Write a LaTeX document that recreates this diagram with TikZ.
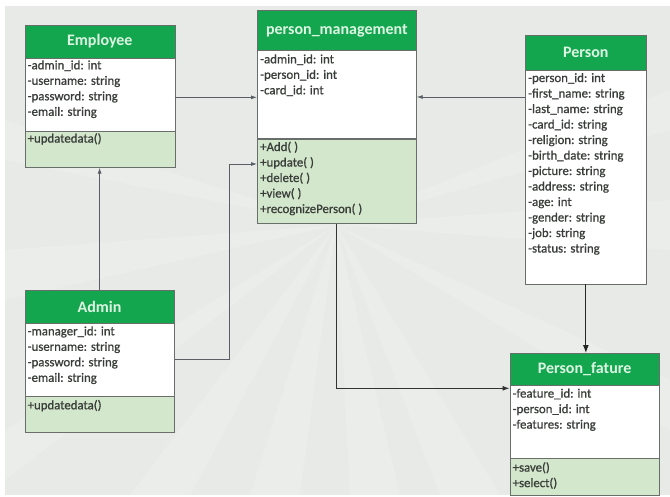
\documentclass[tikz,border=0pt]{standalone}
\usepackage{fontspec}
\setmainfont{Carlito}
\newfontfamily\txtfam[UprightFeatures={FakeBold=0.9}]{Carlito}
\usetikzlibrary{arrows.meta}
\definecolor{bgcol}{HTML}{E7EAE7}
\definecolor{hdrgreen}{HTML}{14A64E}
\definecolor{hdrtext}{HTML}{DDF6E4}
\definecolor{methgreen}{HTML}{D3E7CC}
\definecolor{bordercol}{HTML}{6A6E6A}
\definecolor{textcol}{HTML}{3A3E3A}
\definecolor{linecol}{HTML}{5A5E66}
\newcommand\rowlist[4]{\foreach \t [count=\i] in {#4} \node[txt] (#1\i) at (#2, {#3+(\i-1)*15.5}) {\t};}
\tikzset{
  hdr/.style={draw=bordercol, line width=0.7pt, fill=hdrgreen, text=hdrtext, font=\fontsize{16}{18}\selectfont\bfseries, inner sep=0, anchor=north west},
  attrbox/.style={draw=bordercol, line width=0.7pt, fill=white, inner sep=0, anchor=north west},
  methbox/.style={draw=bordercol, line width=0.7pt, fill=methgreen, inner sep=0, anchor=north west},
  txt/.style={text=textcol, font=\txtfam\fontsize{12.8}{14}\selectfont, inner sep=0, anchor=base west},
  conn/.style={draw=linecol, line width=0.8pt, -{Latex[length=6pt,width=4pt]}},
  connb/.style={draw=black!85, line width=1pt, -{Latex[length=8pt,width=6pt]}},
  ray/.style={fill=white, opacity=0.16}
}
\begin{document}
\begin{tikzpicture}[x=1pt,y=-1pt]
\useasboundingbox (0,0) rectangle (670,496);
\fill[white] (0,0) rectangle (670,496);
\fill[bgcol] (5,6) rectangle (670,495);
% light rays
\begin{scope}
\clip (5,6) rectangle (670,495);
\fill[ray] (336,225) -- (250,495) -- (300,495) -- cycle;
\fill[ray] (336,225) -- (130,495) -- (190,495) -- cycle;
\fill[ray] (336,225) -- (350,495) -- (400,495) -- cycle;
\fill[ray] (336,225) -- (440,495) -- (500,495) -- cycle;
\fill[ray] (336,225) -- (5,430) -- (5,480) -- cycle;
\fill[ray] (336,225) -- (5,250) -- (5,300) -- cycle;
\fill[ray] (336,225) -- (670,380) -- (670,430) -- cycle;
\fill[ray] (336,225) -- (670,200) -- (670,250) -- cycle;
\fill[ray] (336,225) -- (5,120) -- (5,160) -- cycle;
\fill[ray] (336,225) -- (670,90) -- (670,130) -- cycle;
\end{scope}

% Employee
\node[hdr, minimum width=150, minimum height=32.5] (empH) at (24.5,25) {Employee};
\node[attrbox, minimum width=150, minimum height=73] (empA) at (24.5,57.5) {};
\node[methbox, minimum width=150, minimum height=36.5] (empM) at (24.5,130.5) {};
\rowlist{empa}{27.5}{69.3}{-admin\_id: int,-username: string,-password: string,-email: string}
\rowlist{empm}{27.5}{142.6}{+updatedata()}

% person_management
\node[hdr, minimum width=159, minimum height=40] (pmH) at (257,10) {person\_management};
\node[attrbox, minimum width=159, minimum height=87.5] (pmA) at (257,50) {};
\node[methbox, minimum width=159, minimum height=84] (pmM) at (257,139) {};
\rowlist{pma}{260}{63.3}{-admin\_id: int,-person\_id: int,-card\_id: int}
\rowlist{pmm}{260}{151}{+Add( ),+update( ),+delete( ),+view( ),+recognizePerson( )}

% Person
\node[hdr, minimum width=121, minimum height=35] (perH) at (525,35) {Person};
\node[attrbox, minimum width=121, minimum height=213.5] (perA) at (525,70) {};
\rowlist{pera}{528}{82}{-person\_id: int,-first\_name: string,-last\_name: string,-card\_id: string,-religion: string,-birth\_date: string,-picture: string,-address: string,-age: int,-gender: string,-job: string,-status: string}

% Admin
\node[hdr, minimum width=149.5, minimum height=32.5] (admH) at (24.5,290) {Admin};
\node[attrbox, minimum width=149.5, minimum height=73.5] (admA) at (24.5,322.5) {};
\node[methbox, minimum width=149.5, minimum height=36] (admM) at (24.5,396) {};
\rowlist{adma}{27.5}{335.3}{-manager\_id: int,-username: string,-password: string,-email: string}
\rowlist{admm}{27.5}{409.3}{+updatedata()}

% Person_fature
\node[hdr, minimum width=149.5, minimum height=32] (fatH) at (509.5,353) {Person\_fature};
\node[attrbox, minimum width=149.5, minimum height=72.5] (fatA) at (509.5,385) {};
\node[methbox, minimum width=149.5, minimum height=37] (fatM) at (509.5,457.5) {};
\rowlist{fata}{512.5}{397.6}{-feature\_id: int,-person\_id: int,-features: string}
\rowlist{fatm}{512.5}{471.6}{+save(),+select()}

% connectors
\draw[conn] ([yshift=-3pt]empA.east) -- ([yshift=-3pt]empA.east -| pmA.west);
\draw[conn] ([yshift=-27pt]perA.north west) -- ([yshift=-27pt]perA.north west -| pmA.east);
\draw[conn] (admH.north) -- (admH.north |- empM.south);
\draw[conn] (admA.east) -- ++(55,0) |- ([yshift=-25pt]pmM.north west);
\draw[draw=black!80, line width=0.9pt, -{Latex[length=7pt,width=5pt]}] (pmM.south) |- ([yshift=-3.3pt]fatA.north west);
\draw[connb] (perA.south) -- (perA.south |- fatH.north);
\end{tikzpicture}
\end{document}
